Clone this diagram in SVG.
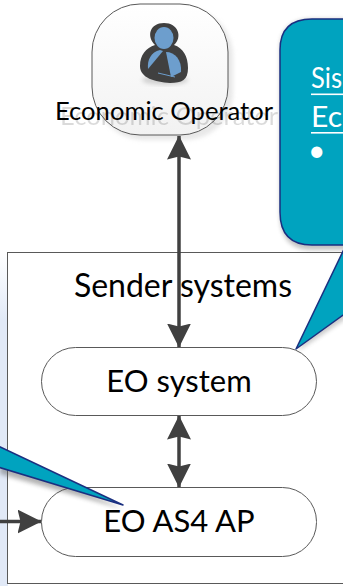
<svg xmlns="http://www.w3.org/2000/svg" width="343" height="586" viewBox="0 0 343 586">
<defs>
<linearGradient id="pg" gradientUnits="userSpaceOnUse" x1="0" y1="250" x2="0" y2="320"><stop offset="0" stop-color="#e4ecf8" stop-opacity="0"/><stop offset="1" stop-color="#e1e9f7"/></linearGradient>
<linearGradient id="og" x1="0" y1="0" x2="0" y2="1"><stop offset="0" stop-color="#ffffff"/><stop offset="1" stop-color="#f2f2f2"/></linearGradient>
<filter id="sh" x="-20%" y="-20%" width="140%" height="140%"><feGaussianBlur stdDeviation="2"/></filter>
<filter id="sh2" x="-10%" y="-30%" width="120%" height="160%"><feGaussianBlur stdDeviation="0.7"/></filter>
<marker id="ah" markerUnits="userSpaceOnUse" markerWidth="24" markerHeight="24" refX="23.5" refY="12" orient="auto-start-reverse"><path d="M0,0 L24,12 L0,24 L3,12 Z" fill="#404040"/></marker>
</defs>
<style>
text{font-family:"Lato","Liberation Sans",sans-serif;fill:#000}
.big{font-size:31px;text-anchor:middle}
.pill{fill:#fff;stroke:#595959;stroke-width:1}
.conn{fill:none;stroke:#404040;stroke-width:3.5;marker-start:url(#ah);marker-end:url(#ah)}
.call{fill:#00a3bf;stroke:#1a2f80;stroke-width:1.5;stroke-linejoin:round}
.ct{font-size:28px;fill:#fff}
</style>
<rect x="0" y="250" width="8" height="336" fill="url(#pg)"/>
<g id="sender-systems"><rect x="7.5" y="252.5" width="345" height="331" fill="#fff" stroke="#595959" stroke-width="1"/>
<text class="big" x="183" y="297" style="font-size:32px">Sender systems</text></g>
<g id="economic-operator">
<rect x="96" y="8" width="137" height="132" rx="48" fill="#d9d9d9" opacity=".6" filter="url(#sh)"/>
<rect x="92" y="4" width="136" height="131" rx="48" fill="url(#og)" stroke="#595959" stroke-width="1"/>
<ellipse cx="165" cy="80" rx="23" ry="5" fill="#d0d0d0" filter="url(#sh)"/>
<path d="M140,66 C140,55 146,48 155,45 C146,36 150,23 164,23 C178,23 183,37 174,45 C183,48 188,56 188,68 C188,80 182,83 170,83 C155,82 140,78 140,66 Z" fill="#404040"/>
<ellipse cx="164" cy="38" rx="9.5" ry="11" fill="#6d9ecd"/>
<path d="M148,69 C147,60 151,52 160,50 L163,51 Z" fill="#6d9ecd"/>
<path d="M166,52 C175,52 182,60 181,72 L171,77 Z" fill="#6d9ecd"/>
<path d="M158,73 L175,77" stroke="#6d9ecd" stroke-width="1"/>
<text x="60" y="125" opacity=".14" filter="url(#sh2)" style="font-size:25.6px">Economic Operator</text>
<text x="164" y="120" text-anchor="middle" style="font-size:25.6px">Economic Operator</text>
</g>
<g id="eo-system"><rect class="pill" x="41.5" y="347.5" width="275" height="68" rx="34"/><text class="big" x="179" y="392">EO system</text></g>
<g id="eo-as4-ap"><rect class="pill" x="41.5" y="487.5" width="275" height="69" rx="34"/><text class="big" x="179" y="532">EO AS4 AP</text></g>
<g id="connectors">
<path class="conn" d="M179,136 V347"/>
<path class="conn" d="M179,416 V487"/>
<path d="M0,521.5 H41" fill="none" stroke="#404040" stroke-width="3.5" marker-end="url(#ah)"/>
</g>
<g id="callout-left">
<path d="M0,453 L123,509 L0,474 Z" fill="#555" opacity=".45" filter="url(#sh)"/>
<path class="call" d="M-2,446 L123,505 L-2,467 Z"/>
</g>
<g id="callout-right">
<path d="M280,50 Q280,19 312,19 H350 V250 H312 Q280,250 280,215 Z" fill="#555" opacity=".35" filter="url(#sh)"/>
<path d="M346,250 L298,351 L350,316 Z" fill="#555" opacity=".3" filter="url(#sh)"/>
<path class="call" d="M350,19 H312 Q280,19 280,50 V212 Q280,245 312,245 H346 L296,349 L350,310"/>
<text class="ct" x="311" y="88" textLength="31" lengthAdjust="spacingAndGlyphs">Sis</text>
<rect x="311" y="93.5" width="32" height="1.6" fill="#fff"/>
<text class="ct" x="311" y="127" textLength="31" lengthAdjust="spacingAndGlyphs">Ec</text>
<rect x="311" y="132" width="32" height="1.6" fill="#fff"/>
<text x="308" y="161" style="font-size:30px;fill:#fff">•</text>
</g>
</svg>
